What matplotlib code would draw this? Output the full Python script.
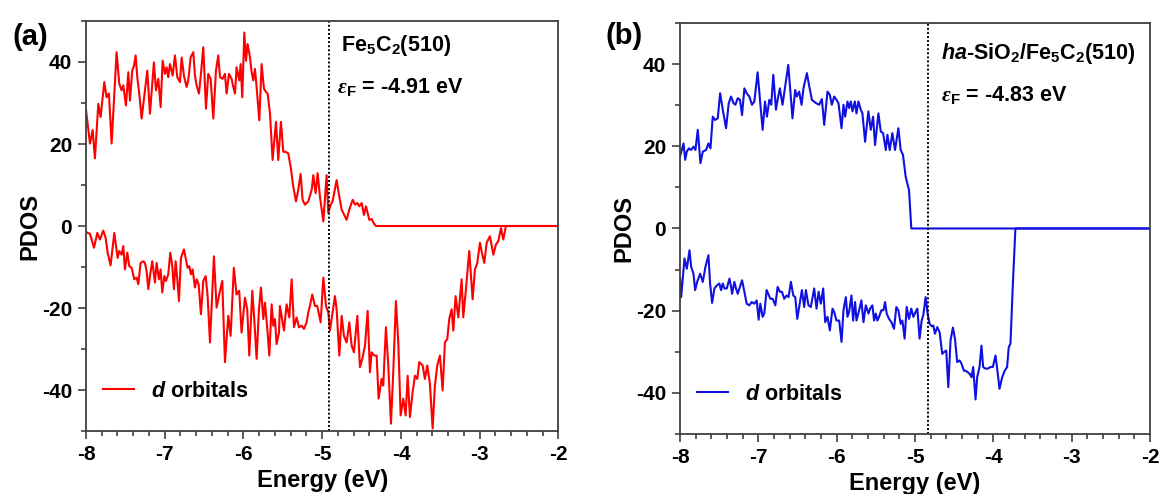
"""
plot.py
-------
Spin-resolved d-orbital PDOS of Fe5C2(510), bare (a) and with ha-SiO2 (b).
Values read off the published figure by eye; each series is (energy, PDOS).
"""

import matplotlib
matplotlib.use("Agg")   # no display
import matplotlib.pyplot as plt
from matplotlib.ticker import MultipleLocator

# --------------------------------------------------------------------------
# Data (energy in eV, PDOS in states)
# --------------------------------------------------------------------------

# (a) Fe5C2(510), spin up
A_UP = [
    (-8.000, 28.5), (-7.949, 20.1), (-7.915, 23.4), (-7.886, 16.5), (-7.843, 29.8),
    (-7.814, 26.6), (-7.767, 35.1), (-7.738, 31.4), (-7.708, 32.3), (-7.674, 20.1),
    (-7.611, 42.4), (-7.577, 34.7), (-7.547, 33.1), (-7.526, 34.3), (-7.492, 29.4),
    (-7.462, 37.5), (-7.441, 30.6), (-7.412, 37.9), (-7.390, 39.1), (-7.369, 41.6),
    (-7.348, 36.3), (-7.323, 32.3), (-7.293, 26.2), (-7.221, 37.9), (-7.187, 27.4),
    (-7.137, 39.9), (-7.111, 33.1), (-7.081, 35.9), (-7.052, 29.0), (-7.026, 40.3),
    (-6.997, 37.1), (-6.976, 38.7), (-6.955, 36.3), (-6.933, 39.5), (-6.899, 36.7),
    (-6.870, 41.6), (-6.840, 36.3), (-6.806, 35.1), (-6.785, 41.1), (-6.756, 36.7),
    (-6.722, 33.9), (-6.701, 35.5), (-6.671, 41.1), (-6.637, 42.4), (-6.616, 36.7),
    (-6.595, 34.3), (-6.565, 32.3), (-6.540, 37.1), (-6.510, 43.6), (-6.476, 28.6),
    (-6.447, 37.1), (-6.417, 35.9), (-6.383, 26.2), (-6.349, 37.9), (-6.320, 41.6),
    (-6.298, 36.3), (-6.265, 35.9), (-6.235, 37.1), (-6.214, 32.3), (-6.184, 37.1),
    (-6.150, 35.9), (-6.129, 33.9), (-6.108, 32.3), (-6.087, 38.7), (-6.053, 35.5),
    (-6.036, 39.5), (-6.015, 31.4), (-5.989, 47.2), (-5.968, 40.3), (-5.947, 44.4),
    (-5.917, 41.1), (-5.896, 37.5), (-5.875, 35.5), (-5.854, 38.3), (-5.833, 33.9),
    (-5.799, 25.8), (-5.769, 39.5), (-5.740, 33.5), (-5.714, 32.7), (-5.693, 32.3),
    (-5.663, 27.4), (-5.630, 16.1), (-5.587, 25.4), (-5.558, 16.1), (-5.524, 25.4),
    (-5.494, 18.1), (-5.465, 18.1), (-5.431, 17.7), (-5.401, 14.5), (-5.367, 9.6),
    (-5.333, 6.0), (-5.304, 8.8), (-5.274, 12.7), (-5.249, 6.4), (-5.219, 5.2),
    (-5.177, 6.0), (-5.134, 8.8), (-5.113, 12.4), (-5.084, 8.0), (-5.058, 12.9),
    (-5.029, 7.2), (-4.986, 1.1), (-4.944, 12.4), (-4.923, 3.2), (-4.893, 5.2),
    (-4.868, 6.0), (-4.817, 11.2), (-4.783, 7.2), (-4.753, 4.0), (-4.711, 2.3),
    (-4.690, 1.5), (-4.656, 4.0), (-4.613, 6.4), (-4.584, 5.2), (-4.554, 5.6),
    (-4.529, 4.8), (-4.499, 5.6), (-4.470, 2.7), (-4.444, 4.8), (-4.402, 1.5),
    (-4.372, 1.7), (-4.343, 0.6), (-4.317, 0.0), (-2.000, 0.0),
]

# (a) Fe5C2(510), spin down
A_DOWN = [
    (-8.000, -1.5), (-7.949, -1.9), (-7.898, -5.3), (-7.856, -1.7), (-7.822, -3.3),
    (-7.780, -1.1), (-7.750, -2.9), (-7.725, -6.5), (-7.687, -9.6), (-7.640, -1.7),
    (-7.598, -7.8), (-7.577, -6.1), (-7.547, -7.0), (-7.526, -4.9), (-7.505, -10.6),
    (-7.475, -6.5), (-7.450, -9.8), (-7.420, -10.2), (-7.386, -13.0), (-7.357, -12.6),
    (-7.335, -14.2), (-7.306, -9.0), (-7.272, -8.6), (-7.251, -9.0), (-7.230, -11.0),
    (-7.208, -15.4), (-7.187, -12.2), (-7.158, -8.6), (-7.124, -13.8), (-7.103, -9.0),
    (-7.073, -13.0), (-7.052, -10.6), (-7.031, -16.2), (-7.005, -12.2), (-6.984, -13.4),
    (-6.955, -11.8), (-6.929, -6.5), (-6.904, -9.8), (-6.883, -15.4), (-6.861, -8.6),
    (-6.840, -13.0), (-6.819, -18.3), (-6.794, -7.8), (-6.756, -5.7), (-6.730, -8.2),
    (-6.709, -10.2), (-6.688, -9.8), (-6.667, -11.8), (-6.645, -10.6), (-6.616, -15.0),
    (-6.595, -13.0), (-6.569, -14.2), (-6.540, -21.5), (-6.510, -13.4), (-6.480, -12.2),
    (-6.455, -17.1), (-6.425, -28.4), (-6.375, -7.4), (-6.341, -19.9), (-6.298, -15.8),
    (-6.269, -13.4), (-6.235, -33.2), (-6.193, -21.9), (-6.163, -26.8), (-6.122, -10.2),
    (-6.088, -16.7), (-6.054, -15.8), (-6.024, -26.0), (-5.981, -17.5), (-5.952, -20.3),
    (-5.926, -31.6), (-5.888, -15.8), (-5.863, -22.7), (-5.833, -32.4), (-5.803, -20.3),
    (-5.778, -15.0), (-5.748, -22.7), (-5.727, -18.7), (-5.697, -25.1), (-5.672, -31.6),
    (-5.642, -19.1), (-5.621, -24.3), (-5.600, -22.7), (-5.579, -28.8), (-5.549, -26.0),
    (-5.537, -19.5), (-5.486, -25.5), (-5.452, -19.1), (-5.418, -22.3), (-5.388, -13.0),
    (-5.359, -24.7), (-5.325, -22.3), (-5.295, -24.7), (-5.261, -24.3), (-5.232, -25.1),
    (-5.198, -23.5), (-5.177, -21.1), (-5.156, -19.5), (-5.126, -16.7), (-5.092, -19.5),
    (-5.063, -19.5), (-5.020, -23.5), (-4.986, -12.6), (-4.952, -19.5), (-4.923, -21.1),
    (-4.902, -25.5), (-4.872, -21.5), (-4.838, -17.1), (-4.817, -20.3), (-4.783, -31.6),
    (-4.753, -21.9), (-4.724, -26.8), (-4.690, -28.4), (-4.656, -23.5), (-4.626, -29.2),
    (-4.597, -30.8), (-4.554, -21.9), (-4.521, -34.4), (-4.491, -32.4), (-4.457, -29.2),
    (-4.423, -20.7), (-4.394, -35.7), (-4.373, -30.8), (-4.339, -31.6), (-4.309, -31.6),
    (-4.284, -42.1), (-4.246, -37.3), (-4.225, -38.9), (-4.191, -24.7), (-4.161, -34.0),
    (-4.127, -48.2), (-4.098, -35.7), (-4.064, -18.3), (-4.034, -28.4), (-4.004, -46.2),
    (-3.970, -42.1), (-3.941, -46.2), (-3.915, -36.5), (-3.886, -46.6), (-3.852, -40.5),
    (-3.822, -36.5), (-3.793, -37.3), (-3.768, -33.2), (-3.725, -34.0), (-3.696, -37.3),
    (-3.666, -34.0), (-3.632, -38.5), (-3.598, -49.4), (-3.569, -38.9), (-3.539, -34.0),
    (-3.505, -31.6), (-3.471, -40.1), (-3.442, -28.4), (-3.412, -27.6), (-3.387, -22.7),
    (-3.357, -20.3), (-3.336, -25.5), (-3.306, -17.1), (-3.272, -22.3), (-3.230, -13.0),
    (-3.209, -22.3), (-3.175, -15.4), (-3.133, -6.1), (-3.090, -17.9), (-3.061, -10.6),
    (-3.031, -9.0), (-2.997, -4.1), (-2.967, -7.0), (-2.942, -9.0), (-2.912, -4.1),
    (-2.870, -2.5), (-2.827, -7.0), (-2.794, -4.5), (-2.764, -3.7), (-2.730, -0.5),
    (-2.701, -3.3), (-2.667, 0.0), (-2.000, 0.0),
]

# (b) ha-SiO2/Fe5C2(510), spin up
B_UP = [
    (-8.000, 17.5), (-7.955, 20.7), (-7.934, 16.7), (-7.913, 18.7), (-7.887, 19.5),
    (-7.858, 19.1), (-7.828, 19.9), (-7.803, 19.1), (-7.773, 24.0), (-7.739, 15.9),
    (-7.709, 18.7), (-7.667, 19.1), (-7.637, 20.7), (-7.611, 19.5), (-7.582, 27.2),
    (-7.552, 26.4), (-7.518, 26.8), (-7.488, 32.9), (-7.454, 28.9), (-7.412, 24.4),
    (-7.378, 30.5), (-7.348, 32.1), (-7.318, 30.5), (-7.293, 30.1), (-7.263, 31.7),
    (-7.234, 31.3), (-7.208, 27.6), (-7.178, 34.1), (-7.149, 32.9), (-7.115, 32.1),
    (-7.081, 30.1), (-7.051, 30.9), (-7.009, 38.0), (-6.979, 31.3), (-6.945, 24.0),
    (-6.915, 30.9), (-6.890, 27.2), (-6.860, 31.3), (-6.835, 30.1), (-6.809, 37.4),
    (-6.775, 28.9), (-6.754, 31.3), (-6.725, 34.1), (-6.691, 30.1), (-6.648, 35.8),
    (-6.618, 39.8), (-6.584, 31.7), (-6.564, 26.8), (-6.530, 33.7), (-6.509, 32.1),
    (-6.479, 33.3), (-6.448, 30.1), (-6.424, 34.1), (-6.380, 37.8), (-6.350, 34.6),
    (-6.316, 31.3), (-6.265, 30.5), (-6.223, 30.1), (-6.189, 31.5), (-6.159, 25.2),
    (-6.117, 33.3), (-6.087, 32.5), (-6.062, 30.1), (-6.032, 32.1), (-6.002, 31.3),
    (-5.977, 30.5), (-5.938, 24.4), (-5.913, 30.1), (-5.892, 27.2), (-5.862, 30.9),
    (-5.841, 29.3), (-5.819, 30.9), (-5.798, 28.5), (-5.768, 30.9), (-5.747, 28.0),
    (-5.722, 30.9), (-5.692, 28.9), (-5.671, 28.0), (-5.637, 21.1), (-5.595, 28.5),
    (-5.565, 24.0), (-5.535, 27.2), (-5.510, 20.3), (-5.467, 28.0), (-5.437, 23.6),
    (-5.407, 23.2), (-5.373, 19.1), (-5.352, 22.8), (-5.323, 19.1), (-5.289, 23.2),
    (-5.255, 19.1), (-5.212, 24.4), (-5.183, 19.1), (-5.153, 17.9), (-5.119, 12.6),
    (-5.076, 9.3), (-5.047, 0.0), (-2.000, 0.0),
]

# (b) ha-SiO2/Fe5C2(510), spin down
B_DOWN = [
    (-8.000, -12.0), (-7.985, -16.7), (-7.943, -7.3), (-7.913, -9.8), (-7.879, -5.3),
    (-7.858, -9.3), (-7.828, -11.0), (-7.807, -15.0), (-7.781, -13.0), (-7.743, -11.0),
    (-7.709, -13.0), (-7.675, -9.3), (-7.637, -6.5), (-7.616, -13.4), (-7.590, -18.1),
    (-7.561, -14.6), (-7.527, -13.8), (-7.497, -13.4), (-7.476, -15.0), (-7.454, -13.4),
    (-7.433, -14.6), (-7.403, -14.6), (-7.369, -12.2), (-7.348, -14.2), (-7.335, -15.9),
    (-7.306, -13.0), (-7.285, -14.6), (-7.263, -15.9), (-7.242, -14.6), (-7.208, -12.6),
    (-7.178, -15.4), (-7.149, -18.3), (-7.115, -18.7), (-7.085, -17.9), (-7.051, -18.3),
    (-7.021, -17.5), (-6.996, -22.2), (-6.975, -18.3), (-6.945, -21.5), (-6.924, -20.7),
    (-6.894, -15.0), (-6.873, -15.9), (-6.847, -17.1), (-6.817, -17.1), (-6.783, -18.7),
    (-6.754, -14.2), (-6.725, -15.4), (-6.699, -15.4), (-6.669, -17.1), (-6.639, -16.3),
    (-6.614, -16.7), (-6.584, -13.0), (-6.554, -16.3), (-6.529, -16.7), (-6.503, -22.0),
    (-6.469, -17.9), (-6.444, -15.0), (-6.414, -19.1), (-6.393, -15.0), (-6.360, -18.7),
    (-6.330, -19.1), (-6.287, -14.6), (-6.257, -19.5), (-6.231, -15.4), (-6.202, -18.3),
    (-6.172, -14.6), (-6.146, -22.8), (-6.117, -21.5), (-6.087, -24.8), (-6.053, -19.5),
    (-6.032, -20.3), (-6.002, -22.4), (-5.968, -22.4), (-5.938, -27.6), (-5.913, -19.9),
    (-5.883, -16.7), (-5.862, -21.5), (-5.841, -20.3), (-5.811, -16.3), (-5.790, -22.4),
    (-5.764, -17.9), (-5.747, -22.4), (-5.713, -19.9), (-5.684, -17.5), (-5.658, -22.8),
    (-5.628, -18.7), (-5.594, -20.7), (-5.573, -19.5), (-5.544, -18.7), (-5.522, -22.4),
    (-5.501, -20.7), (-5.480, -22.4), (-5.459, -21.5), (-5.429, -19.9), (-5.403, -19.9),
    (-5.382, -17.9), (-5.361, -20.7), (-5.331, -22.0), (-5.301, -22.8), (-5.268, -24.4),
    (-5.238, -19.1), (-5.212, -19.9), (-5.183, -23.2), (-5.161, -22.4), (-5.132, -26.8),
    (-5.106, -19.1), (-5.076, -22.0), (-5.047, -19.5), (-5.021, -21.5), (-4.992, -20.3),
    (-4.970, -19.5), (-4.941, -26.8), (-4.915, -22.4), (-4.894, -21.1), (-4.864, -16.7),
    (-4.839, -20.7), (-4.813, -23.2), (-4.788, -23.8), (-4.766, -23.6), (-4.745, -25.6),
    (-4.716, -24.0), (-4.686, -25.2), (-4.652, -30.5), (-4.631, -30.1), (-4.601, -29.7),
    (-4.575, -38.6), (-4.546, -27.2), (-4.516, -24.1), (-4.490, -26.8), (-4.461, -32.5),
    (-4.431, -32.1), (-4.406, -32.9), (-4.376, -34.6), (-4.355, -34.6), (-4.325, -35.0),
    (-4.299, -35.4), (-4.278, -36.2), (-4.257, -33.7), (-4.227, -41.6), (-4.206, -36.2),
    (-4.176, -33.7), (-4.151, -28.5), (-4.130, -33.7), (-4.100, -34.1), (-4.070, -34.1),
    (-4.036, -33.7), (-4.006, -33.7), (-3.972, -30.9), (-3.951, -34.1), (-3.921, -39.0),
    (-3.887, -36.2), (-3.854, -34.6), (-3.824, -33.7), (-3.803, -28.9), (-3.781, -28.0),
    (-3.752, -14.2), (-3.718, 0.0), (-2.000, 0.0),
]

FERMI = [-4.91, -4.83]
SYSTEMS = [r"Fe$_5$C$_2$(510)", r"$\mathit{ha}$-SiO$_2$/Fe$_5$C$_2$(510)"]
PANEL_TAGS = ["(a)", "(b)"]
COLORS = ["#ff0000", "#1010e0"]

# --------------------------------------------------------------------------
# Style
# --------------------------------------------------------------------------

plt.rcParams["font.family"] = ["Liberation Sans", "DejaVu Sans"]
plt.rcParams["font.weight"] = "bold"
plt.rcParams["axes.unicode_minus"] = False
plt.rcParams["mathtext.fontset"] = "custom"
plt.rcParams["mathtext.rm"] = "Liberation Sans:bold"
plt.rcParams["mathtext.bf"] = "Liberation Sans:bold"
plt.rcParams["mathtext.it"] = "Liberation Sans:italic:bold"
plt.rcParams["mathtext.sf"] = "Liberation Serif:italic"

SPINE = "#404040"


def draw_panel(ax, up, down, color, e_f, system):
    for i, series in enumerate((up, down)):
        xs = [p[0] for p in series]
        ys = [p[1] for p in series]
        ax.plot(xs, ys, color=color, lw=1.5,
                label=r"$\mathit{d}$ orbitals" if i == 0 else None)

    ax.axvline(e_f, color="black", lw=1.4, ls=(0, (1, 1.1)))

    ax.set_xlim(-8, -2)
    ax.set_ylim(-50, 50)
    ax.xaxis.set_major_locator(MultipleLocator(1))
    ax.xaxis.set_minor_locator(MultipleLocator(0.2))
    ax.yaxis.set_major_locator(MultipleLocator(20))
    ax.yaxis.set_minor_locator(MultipleLocator(10))
    ax.tick_params(which="both", direction="out", color=SPINE, width=1.2,
                   labelsize=15, top=False, right=False)
    ax.tick_params(which="major", length=6, pad=4)
    ax.tick_params(which="minor", length=3.3)
    for sp in ax.spines.values():
        sp.set_color(SPINE)
        sp.set_linewidth(1.3)

    ax.set_xlabel("Energy (eV)", fontsize=17, fontweight="bold")
    ax.set_ylabel("PDOS", fontsize=17, fontweight="bold")
    ax.xaxis.set_label_coords(0.5, -0.093)
    ax.yaxis.set_label_coords(-0.094, 0.5)

    ax.text(0.54, 0.928, system, transform=ax.transAxes, fontsize=15.5,
            fontweight="bold", ha="left", va="baseline")
    ax.text(0.532, 0.824, r"$\mathsf{\varepsilon}_\mathrm{F}$ = %.2f eV" % e_f,
            transform=ax.transAxes, fontsize=15.5, fontweight="bold",
            ha="left", va="baseline")

    ax.legend(loc="center left", bbox_to_anchor=(0.036, 0.097), frameon=False,
              fontsize=15.5, handlelength=1.45, handletextpad=0.8,
              borderpad=0, borderaxespad=0)


fig = plt.figure(figsize=(11.63, 4.94), dpi=100)
ax_a = fig.add_axes([0.0739, 0.1275, 0.4063, 0.830])
ax_b = fig.add_axes([0.5847, 0.1215, 0.4041, 0.832])

draw_panel(ax_a, A_UP, A_DOWN, COLORS[0], FERMI[0], SYSTEMS[0])
draw_panel(ax_b, B_UP, B_DOWN, COLORS[1], FERMI[1], SYSTEMS[1])

# panel (b) text sits a little further right in the original
for t in ax_b.texts:
    t.set_x(0.555)
ax_b.texts[0].set_y(0.912)
ax_b.texts[1].set_y(0.808)

fig.text(0.026, 0.926, PANEL_TAGS[0], fontsize=21, fontweight="bold",
         ha="center", va="center")
fig.text(0.537, 0.927, PANEL_TAGS[1], fontsize=21, fontweight="bold",
         ha="center", va="center")

fig.savefig("out.png", dpi=100, facecolor="white")
plt.close(fig)
